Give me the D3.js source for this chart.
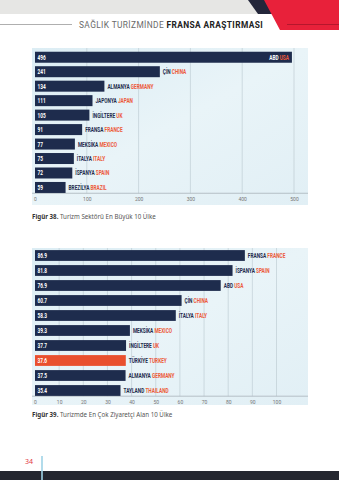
<!DOCTYPE html>
<html><head><meta charset="utf-8">
<script src="https://cdn.jsdelivr.net/npm/d3@7"></script>
<style>
html,body{margin:0;padding:0;background:#fff;}
svg{display:block;}
</style></head>
<body>
<svg id="c" width="339" height="480"></svg>
<script>
// ---- data ----
const chart1Tr = ["ABD","ÇİN","ALMANYA","JAPONYA","İNGİLTERE","FRANSA","MEKSİKA","İTALYA","İSPANYA","BREZİLYA"];
const chart1En = ["USA","CHINA","GERMANY","JAPAN","UK","FRANCE","MEXICO","ITALY","SPAIN","BRAZIL"];
const chart1Values = [496,241,134,111,105,91,77,75,72,59];
const chart1Ticks = [0,100,200,300,400,500];

const chart2Tr = ["FRANSA","İSPANYA","ABD","ÇİN","İTALYA","MEKSİKA","İNGİLTERE","TÜRKİYE","ALMANYA","TAYLAND"];
const chart2En = ["FRANCE","SPAIN","USA","CHINA","ITALY","MEXICO","UK","TURKEY","GERMANY","THAILAND"];
const chart2Values = [86.9,81.8,76.9,60.7,58.3,39.3,37.7,37.6,37.5,35.4];
const chart2Labels = ["86.9","81.8","76.9","60.7","58.3","39.3","37.7","37.6","37.5","35.4"];
const chart2Ticks = [0,10,20,30,40,50,60,70,80,90,100];
const highlight = "TURKEY";

const titleLight = "SAĞLIK TURİZMİNDE ";
const titleBold = "FRANSA ARAŞTIRMASI";
const caption1 = ["Figür 38.", " Turizm Sektörü En Büyük 10 Ülke"];
const caption2 = ["Figür 39.", " Turizmde En Çok Ziyaretçi Alan 10 Ülke"];
const pageNo = "34";

// ---- styles ----
const NAVY = "#1e2c4d", ORANGE = "#ec5a3a", TURK = "#e9502e";
const COND = "Roboto,'Liberation Sans',sans-serif";
const SX = 0.68;
const svg = d3.select("#c");
const defs = svg.append("defs");
const g = defs.append("linearGradient").attr("id","water").attr("x1","0").attr("y1","0").attr("x2","1").attr("y2","1");
g.append("stop").attr("offset","0%").attr("stop-color","#dcedf4");
g.append("stop").attr("offset","50%").attr("stop-color","#e9f4f8");
g.append("stop").attr("offset","100%").attr("stop-color","#e1eff5");

// ---- header ----
svg.append("rect").attr("x",0).attr("y",0).attr("width",339).attr("height",14).attr("fill","#e6e6e4");
svg.append("path").attr("d","M248,0 L266,0 L273,14 L258,14 Z").attr("fill","#23263a");
svg.append("path").attr("d","M264,0 L339,0 L339,30 L280,30 Z").attr("fill","#e8213a");
svg.append("line").attr("x1",287).attr("x2",339).attr("y1",24.5).attr("y2",24.5).attr("stroke","#a81428").attr("stroke-width",0.8);
svg.append("line").attr("x1",0).attr("x2",72).attr("y1",24.5).attr("y2",24.5).attr("stroke","#9a9a9a").attr("stroke-width",0.8);
const tt = svg.append("text").attr("transform","translate(79,28.2) scale(0.87,1)")
  .attr("font-family",COND).attr("font-size",9.6).attr("letter-spacing",0.45);
tt.append("tspan").attr("fill","#6a6a6a").text(titleLight);
tt.append("tspan").attr("fill","#222").attr("font-weight","bold").text(titleBold);

function drawChart(opt){
  const {top, bottom, tr, en, values, labels, ticks, xmax, xr, yr, pad, inside} = opt;
  svg.append("rect").attr("x",32).attr("y",top).attr("width",276).attr("height",bottom-top).attr("fill","url(#water)");
  const x = d3.scaleLinear().domain([0,xmax]).range(xr);
  const y = d3.scaleBand().domain(en).range(yr).paddingInner(pad).paddingOuter(pad/2);
  const axisY = y(en[en.length-1]) + y.bandwidth() + 0.3;
  // gridlines
  svg.append("g").selectAll("line").data(ticks.slice(1)).join("line")
    .attr("x1",d=>x(d)).attr("x2",d=>x(d)).attr("y1",top).attr("y2",axisY)
    .attr("stroke","#b9c8cf").attr("stroke-width",0.6);
  // axis
  const ax = svg.append("g").attr("transform",`translate(0,${axisY})`)
    .call(d3.axisBottom(x).tickValues(ticks).tickSize(0).tickPadding(4).tickFormat(d3.format("d")));
  ax.select(".domain").attr("stroke","#a9b4ba").attr("stroke-width",0.8).attr("d",`M32,0H308`);
  ax.selectAll("text").attr("font-family",COND).attr("font-size",5).attr("fill","#777");
  // bars
  const rows = svg.append("g").selectAll("g").data(en).join("g");
  rows.append("rect").attr("x",x(0)).attr("y",d=>y(d))
    .attr("width",(d,i)=>x(values[i])-x(0)).attr("height",y.bandwidth())
    .attr("fill",d=>d===highlight?TURK:NAVY);
  rows.append("text")
    .attr("transform",d=>`translate(${x(0)+2.5},${y(d)+y.bandwidth()/2+2.5}) scale(${SX},1)`)
    .attr("font-family",COND).attr("font-weight","bold").attr("font-size",7).attr("fill","#fff")
    .text((d,i)=>labels[i]);
  const lab = rows.append("text")
    .attr("transform",(d,i)=>`translate(${inside.includes(d) ? x(values[i])-3 : x(values[i])+3},${y(d)+y.bandwidth()/2+2.5}) scale(${SX},1)`)
    .attr("text-anchor",d=>inside.includes(d)?"end":"start")
    .attr("font-family",COND).attr("font-weight","bold").attr("font-size",7);
  lab.append("tspan").attr("fill",d=>inside.includes(d)?"#fff":NAVY).text((d,i)=>tr[i]+" ");
  lab.append("tspan").attr("fill",ORANGE).text(d=>d);
}

drawChart({top:48,bottom:205,tr:chart1Tr,en:chart1En,values:chart1Values,labels:chart1Values.map(String),
  ticks:chart1Ticks,xmax:500,xr:[35,294],yr:[50,194.7],pad:0.24,inside:["USA"]});
drawChart({top:248,bottom:405,tr:chart2Tr,en:chart2En,values:chart2Values,labels:chart2Labels,
  ticks:chart2Ticks,xmax:100,xr:[35,276.5],yr:[248,398],pad:0.28,inside:[]});

function caption(yy, parts){
  const t = svg.append("text").attr("x",32).attr("y",yy).attr("font-family","'Noto Sans',sans-serif").attr("font-size",6.2);
  t.append("tspan").attr("font-weight","bold").attr("fill","#333").text(parts[0]);
  t.append("tspan").attr("fill","#555").text(parts[1]);
}
caption(219, caption1);
caption(417, caption2);

// ---- footer ----
svg.append("rect").attr("x",0).attr("y",471).attr("width",339).attr("height",9).attr("fill","#24262f");
svg.append("line").attr("x1",42).attr("x2",42).attr("y1",456).attr("y2",480).attr("stroke","#9fd3e6").attr("stroke-width",1.6);
svg.append("text").attr("x",25).attr("y",464).attr("font-family","'Noto Sans',sans-serif").attr("font-size",7).attr("fill","#e2363f").text(pageNo);
</script>
</body></html>
